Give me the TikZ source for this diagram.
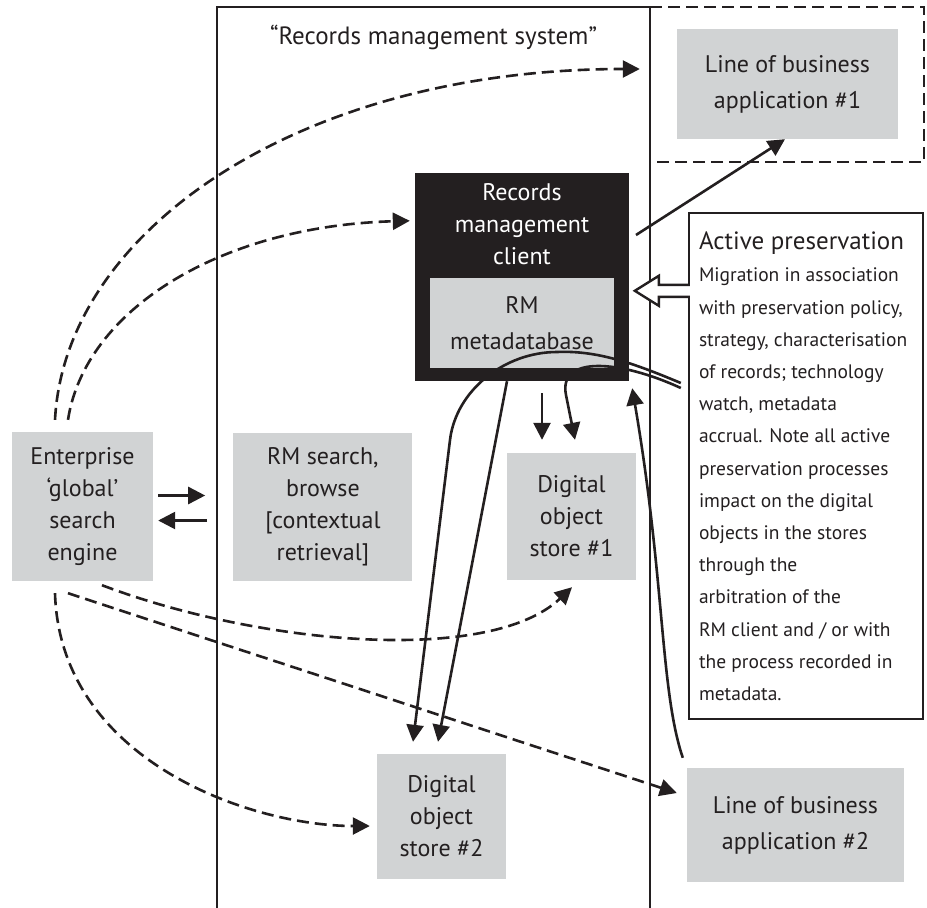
\documentclass[tikz,border=0pt]{standalone}
\usepackage{fontspec}
\setmainfont{PT Sans}
\usetikzlibrary{arrows.meta,positioning,calc}
\definecolor{rmgray}{RGB}{209,211,212}
\definecolor{rmblack}{RGB}{35,31,32}
\newcommand{\boxfont}{\fontsize{24}{32}\selectfont}
\newcommand{\lobfont}{\fontsize{24}{36}\selectfont}
\newcommand{\presfont}{\fontsize{19.5}{32.2}\selectfont}
\newcommand{\prestitle}{\fontsize{25}{32.2}\selectfont}

\begin{document}
\begin{tikzpicture}[x=1pt,y=-1pt,every node/.style={text=rmblack},
    gbox/.style={rectangle,fill=rmgray,inner sep=0pt,align=center,font=\boxfont},
    frame/.style={draw=rmblack,line width=2.4pt},
    arrow/.style={-{Triangle[length=17pt,width=17pt]},line width=2.6pt,draw=rmblack},
    dasharrow/.style={arrow,dash pattern=on 12pt off 6pt}]
  \useasboundingbox (0,0) rectangle (927,908);
  % system frame and the dashed application frame
  \draw[frame] (217,912) |- (650,7) -- (650,912);
  \draw[frame,dash pattern=on 12pt off 6pt] (650,7) -- (924,7) -- (924,162) -- (650,162);
  \node[font=\fontsize{25}{30}\selectfont] (rmstitle) at (433.5,37) {“Records management system”};
  \node[gbox,minimum width=141pt,minimum height=149pt] (engine) at (82.5,506.5) {Enterprise\\‘global’\\search\\engine};
  \node[gbox,minimum width=179pt,minimum height=148pt,right=80pt of engine] (rmsearch) {RM search,\\browse\\{}[contextual\\retrieval]};
  \node[gbox,minimum width=129pt,minimum height=127pt] (store1) at (571.5,516.5) {Digital\\object\\store \#1};
  \node[gbox,minimum width=129pt,minimum height=125pt] (store2) at (441.5,816.5) {Digital\\object\\store \#2};
  \node[gbox,font=\lobfont,minimum width=221pt,minimum height=110pt] (lob1) at (787.5,84) {Line of business\\application \#1};
  \node[gbox,font=\lobfont,minimum width=217pt,minimum height=114pt] (lob2) at (795.5,825) {Line of business\\application \#2};
  \node[fill=rmblack,minimum width=214pt,minimum height=208pt,inner sep=0pt] (rmc) at (522,277) {};
  \node[font=\boxfont,text=white,align=center,inner sep=0pt,below=11pt of rmc.north] (rmclabel) {Records\\management\\client};
  \node[gbox,font=\lobfont,minimum width=184pt,minimum height=90pt] (rmdb) at (522,323) {RM\\metadatabase};
  \node[frame,minimum width=234pt,minimum height=506pt,inner sep=0pt] (pres) at (806,466) {};
  \node[font=\presfont,align=left,inner sep=0pt,below right=20pt and 11pt of pres.north west] (prestext)
    {{\prestitle Active preservation}\\Migration in association\\with preservation policy,\\strategy, characterisation\\of records; technology\\watch, metadata\\accrual. Note all active\\preservation processes\\impact on the digital\\objects in the stores\\through the\\arbitration of the\\RM client and / or with\\the process recorded in\\metadata.};
  % open arrow into the client
  \coordinate (presin) at ([yshift=-79pt]pres.north west);
  \filldraw[fill=white,draw=rmblack,line width=2.4pt] ($(presin)+(2,-6)$) -- ++(-31,0) -- ++(0,-9) -- ++(-24,15) -- ++(24,15) -- ++(0,-9) -- ++(31,0);
  % search engine links
  \draw[dasharrow] ([shift={(-27.5,-12)}]engine.north) .. controls (65,230) and (300,69) .. ([shift={(-37,-15)}]lob1.west);
  \draw[dasharrow] ([shift={(-14.5,-12)}]engine.north) .. controls (85,310) and (220,226) .. ([shift={(-5,48)}]rmc.north west);
  \draw[dasharrow] ([shift={(19.5,4)}]engine.south) .. controls (260,645) and (490,665) .. ([shift={(0.5,7)}]store1.south);
  \draw[dasharrow] ([shift={(-14.5,12)}]engine.south) -- ([shift={(-10,-32)}]lob2.west);
  \draw[dasharrow] ([shift={(-27.5,12)}]engine.south) .. controls (60,760) and (250,826) .. ([shift={(-7,9.5)}]store2.west);
  \draw[arrow,shorten <=5pt,shorten >=28pt] ([yshift=11pt]engine.east) -- ([yshift=11pt]rmsearch.west);
  \draw[arrow,shorten <=26pt,shorten >=5pt] ([yshift=-14pt]rmsearch.west) -- ([yshift=-14pt]engine.east);
  % client links
  \coordinate (rmcout) at (636,235);
  \draw[arrow] (rmcout) -- ([xshift=-2.5pt]lob1.south);
  \draw[arrow,shorten <=12pt,shorten >=13pt] ([xshift=20pt]rmc.south) -- ([xshift=20pt]rmc.south |- store1.north);
  \draw[arrow] ([xshift=-15pt]rmc.south) -- ([shift={(-3.5,-12)}]store2.north);
  \draw[arrow] ([shift={(-7,-83)}]pres.west) .. controls (640,366) and (600,350) .. (557,352)
    .. controls (505,352) and (456,390) .. (450,440) -- ([shift={(-28.5,-12)}]store2.north);
  \draw[arrow] ([shift={(-7,-78)}]pres.west) .. controls (620,360) and (558,355) .. (566,395) -- ([shift={(3.5,-13)}]store1.north);
  \draw[arrow] ([shift={(-4,-10)}]lob2.north west) .. controls (660,690) and (665,580) .. ([shift={(3,7)}]rmc.south east);
\end{tikzpicture}
\end{document}
